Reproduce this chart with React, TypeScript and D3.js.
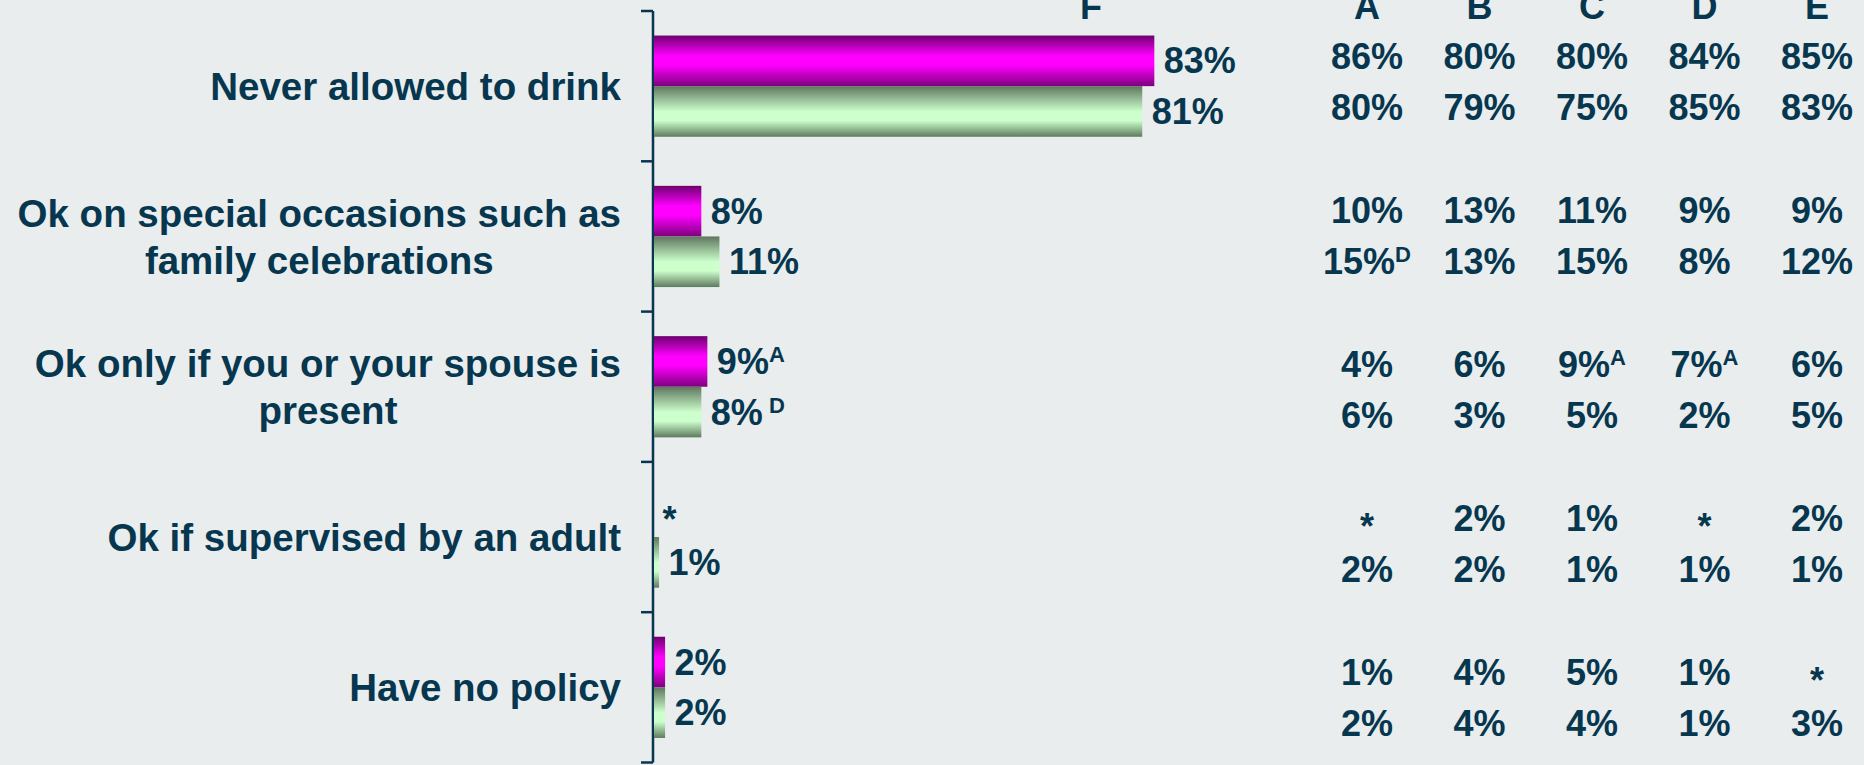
import React, { useEffect, useRef } from 'react';
import * as d3 from 'd3';

// chart data
const categories = [
  'Never allowed to drink',
  'Ok on special occasions such as family celebrations',
  'Ok only if you or your spouse is present',
  'Ok if supervised by an adult',
  'Have no policy',
];
const categoryLines = [
  ['Never allowed to drink'],
  ['Ok on special occasions such as', 'family celebrations'],
  ['Ok only if you or your spouse is', 'present'],
  ['Ok if supervised by an adult'],
  ['Have no policy'],
];
const series = ['F1', 'F2'];
const valuesF1 = [83, 8, 9, 0, 2];
const valuesF2 = [81, 11, 8, 1, 2];
const labelsF1 = ['83%', '8%', '9%^A', '*', '2%'];
const labelsF2 = ['81%', '11%', '8%^ D', '1%', '2%'];

const columns = ['A', 'B', 'C', 'D', 'E'];
const tableF1 = [
  ['86%', '80%', '80%', '84%', '85%'],
  ['10%', '13%', '11%', '9%', '9%'],
  ['4%', '6%', '9%^A', '7%^A', '6%'],
  ['*', '2%', '1%', '*', '2%'],
  ['1%', '4%', '5%', '1%', '*'],
];
const tableF2 = [
  ['80%', '79%', '75%', '85%', '83%'],
  ['15%^D', '13%', '15%', '8%', '12%'],
  ['6%', '3%', '5%', '2%', '5%'],
  ['2%', '2%', '1%', '1%', '1%'],
  ['2%', '4%', '4%', '1%', '3%'],
];

const W = 1864;
const H = 765;
const TEXT = '#07374f';
const BG = '#e9edee';
const FONT = '"Liberation Sans", Arial, sans-serif';

// writes "83%" or "9%^A" (superscript after ^) into a text element
const writeLabel = (sel: d3.Selection<SVGTextElement, unknown, null, undefined>, s: string) => {
  const [main, sup] = s.split('^');
  sel.append('tspan').text(main);
  if (main === '*') sel.attr('dy', 8); // asterisk sits at mid height in the original
  if (sup) {
    sel.append('tspan').attr('font-size', 22).attr('dy', -12).text(sup);
  }
};

const App: React.FC = () => {
  const ref = useRef<SVGSVGElement>(null);

  useEffect(() => {
    const svg = d3.select(ref.current);
    svg.selectAll('*').remove();

    const defs = svg.append('defs');
    const mg = defs.append('linearGradient').attr('id', 'gMag').attr('x1', 0).attr('y1', 0).attr('x2', 0).attr('y2', 1);
    [[0, '#6e006e'], [0.4, '#ff00ff'], [0.58, '#ff00ff'], [1, '#7d007d']].forEach(([o, c]) =>
      mg.append('stop').attr('offset', o).attr('stop-color', c));
    const gg = defs.append('linearGradient').attr('id', 'gGrn').attr('x1', 0).attr('y1', 0).attr('x2', 0).attr('y2', 1);
    [[0, '#5e765e'], [0.5, '#ccffcc'], [0.68, '#ccffcc'], [1, '#5f7a5f']].forEach(([o, c]) =>
      gg.append('stop').attr('offset', o).attr('stop-color', c));

    svg.append('rect').attr('width', W).attr('height', H).attr('fill', BG);

    const y = d3.scaleBand<string>().domain(categories).range([11, 762.5]);
    const ySub = d3.scaleBand<string>().domain(series).range([0, y.bandwidth()]).paddingOuter(0.485);
    const x = d3.scaleLinear().domain([0, 100]).range([653, 653 + 604]);
    const col = d3.scalePoint<string>().domain(columns).range([1367, 1817]);
    // the table on the right has its own, slightly wider row spacing
    const tableY = d3.scalePoint<string>().domain(categories).range([56, 672]);
    const tableRowGap = 51;

    // axis
    const axis = svg.append('g').attr('stroke', TEXT).attr('stroke-width', 2.5);
    axis.append('line').attr('x1', x(0)).attr('x2', x(0)).attr('y1', y.range()[0]).attr('y2', y.range()[1]);
    const bounds = categories.map(c => y(c)!).concat([y.range()[1]]);
    axis.selectAll('line.tick').data(bounds).enter().append('line')
      .attr('class', 'tick')
      .attr('x1', x(0) - 12).attr('x2', x(0))
      .attr('y1', d => d).attr('y2', d => d);

    // headers
    const hdr = svg.append('g').attr('font-family', FONT).attr('font-weight', 'bold')
      .attr('font-size', 36).attr('fill', TEXT).attr('text-anchor', 'middle');
    hdr.append('text').attr('x', 1091).attr('y', 19).text('F');
    columns.forEach(c => hdr.append('text').attr('x', col(c)!).attr('y', 19).text(c));

    const seriesData = [
      { key: 'F1', values: valuesF1, labels: labelsF1, table: tableF1, fill: 'url(#gMag)', row: 0 },
      { key: 'F2', values: valuesF2, labels: labelsF2, table: tableF2, fill: 'url(#gGrn)', row: 1 },
    ];

    const g = svg.append('g').attr('font-family', FONT).attr('font-weight', 'bold')
      .attr('font-size', 36).attr('fill', TEXT);

    seriesData.forEach(s => {
      categories.forEach((c, i) => {
        const top = y(c)! + ySub(s.key)!;
        const mid = top + ySub.bandwidth() / 2;
        if (s.values[i] > 0) {
          g.append('rect')
            .attr('x', x(0) + 1).attr('y', top)
            .attr('width', x(s.values[i]) - x(0) - 1).attr('height', ySub.bandwidth())
            .attr('fill', s.fill);
        }
        const t = g.append('text').attr('x', x(s.values[i]) + 9.5).attr('y', mid + 12.5);
        writeLabel(t, s.labels[i]);

        const ty = tableY(c)! + s.row * tableRowGap + 12.5;
        columns.forEach((cl, j) => {
          const tt = g.append('text').attr('x', col(cl)!).attr('y', ty).attr('text-anchor', 'middle');
          writeLabel(tt, s.table[i][j]);
        });
      });
    });

    // category labels, right-aligned block, lines centred on each other
    const lab = svg.append('g').attr('font-family', FONT).attr('font-weight', 'bold')
      .attr('font-size', 38.5).attr('fill', TEXT);
    const right = 621;
    const lineH = 47.5;
    categories.forEach((c, i) => {
      const lines = categoryLines[i];
      const cy = y(c)! + y.bandwidth() / 2;
      const texts = lines.map((ln, k) =>
        lab.append('text')
          .attr('y', cy + (k - (lines.length - 1) / 2) * lineH + 13.8)
          .attr('text-anchor', 'middle')
          .text(ln));
      const widest = d3.max(texts, t => (t.node() as SVGTextElement).getComputedTextLength()) || 0;
      texts.forEach(t => t.attr('x', right - widest / 2));
    });
  }, []);

  return (
    <svg ref={ref} width={W} height={H} style={{ position: 'absolute', left: 0, top: 0, display: 'block' }} />
  );
};

export default App;
